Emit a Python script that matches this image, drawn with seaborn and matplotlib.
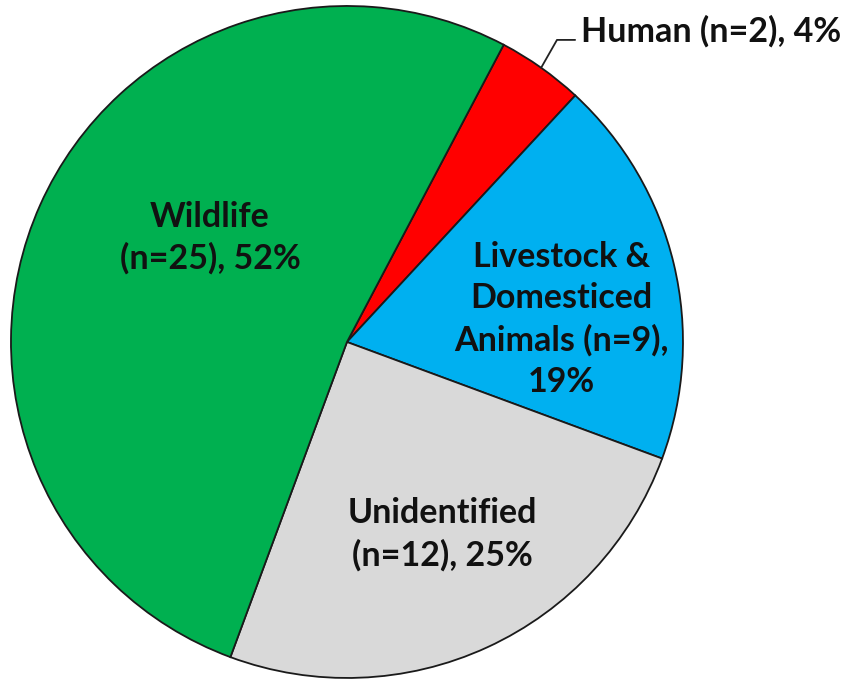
import numpy as np
import matplotlib
matplotlib.use("Agg")
import matplotlib.pyplot as plt
import seaborn as sns

# Sources of the identified cases
categories = ["Human", "Livestock & Domesticed Animals", "Unidentified", "Wildlife"]
counts = [2, 9, 12, 25]
colors = ["#FF0000", "#00B0F0", "#D9D9D9", "#00B050"]

sns.set_theme(style="white")
plt.rcParams["font.family"] = ["Lato", "DejaVu Sans"]

fig = plt.figure(figsize=(8.43, 6.79), dpi=100)
ax = fig.add_axes([0.013, 0.0015, 0.7972, 0.9897])

total = sum(counts)
pcts = [round(100 * c / total) for c in counts]

wedges, _ = ax.pie(
    counts,
    colors=colors,
    startangle=62.2,
    counterclock=False,
    radius=1.0,
    wedgeprops=dict(edgecolor="#1a1a1a", linewidth=1.3),
)
ax.set_xlim(-1, 1)
ax.set_ylim(-1, 1)
ax.set_aspect("equal")
ax.axis("off")

font = dict(fontsize=24.5, fontweight="bold", color="#111111", linespacing=1.36)

# Wrapped label text for the wedges that hold their own labels
label_lines = {
    1: "Livestock &\nDomesticed\nAnimals (n={n}),\n{p}%",
    2: "Unidentified\n(n={n}), {p}%",
    3: "Wildlife\n(n={n}), {p}%",
}
# Label placement inside each wedge: (radius fraction, angle in degrees)
placement = {1: (0.641, 6.1), 2: (0.638, -63.7), 3: (0.512, 142.8)}

for i, fmt in label_lines.items():
    r, ang = placement[i]
    a = np.deg2rad(ang)
    ax.text(r * np.cos(a), r * np.sin(a), fmt.format(n=counts[i], p=pcts[i]),
            ha="center", va="center", **font)

# Human label sits outside the pie with a leader line
w = wedges[0]
mid = np.deg2rad((w.theta1 + w.theta2) / 2)
edge = (np.cos(mid), np.sin(mid))
elbow = (0.625, 0.899)
end = (0.679, 0.899)
ax.plot([edge[0], elbow[0], end[0]], [edge[1], elbow[1], end[1]],
        color="#222222", lw=1.3, clip_on=False)
ax.text(end[0] + 0.018, end[1] - 0.005, f"{categories[0]} (n={counts[0]}), {pcts[0]}%",
        ha="left", va="baseline", clip_on=False, **font)

fig.savefig("out.png", dpi=100, facecolor="white")
